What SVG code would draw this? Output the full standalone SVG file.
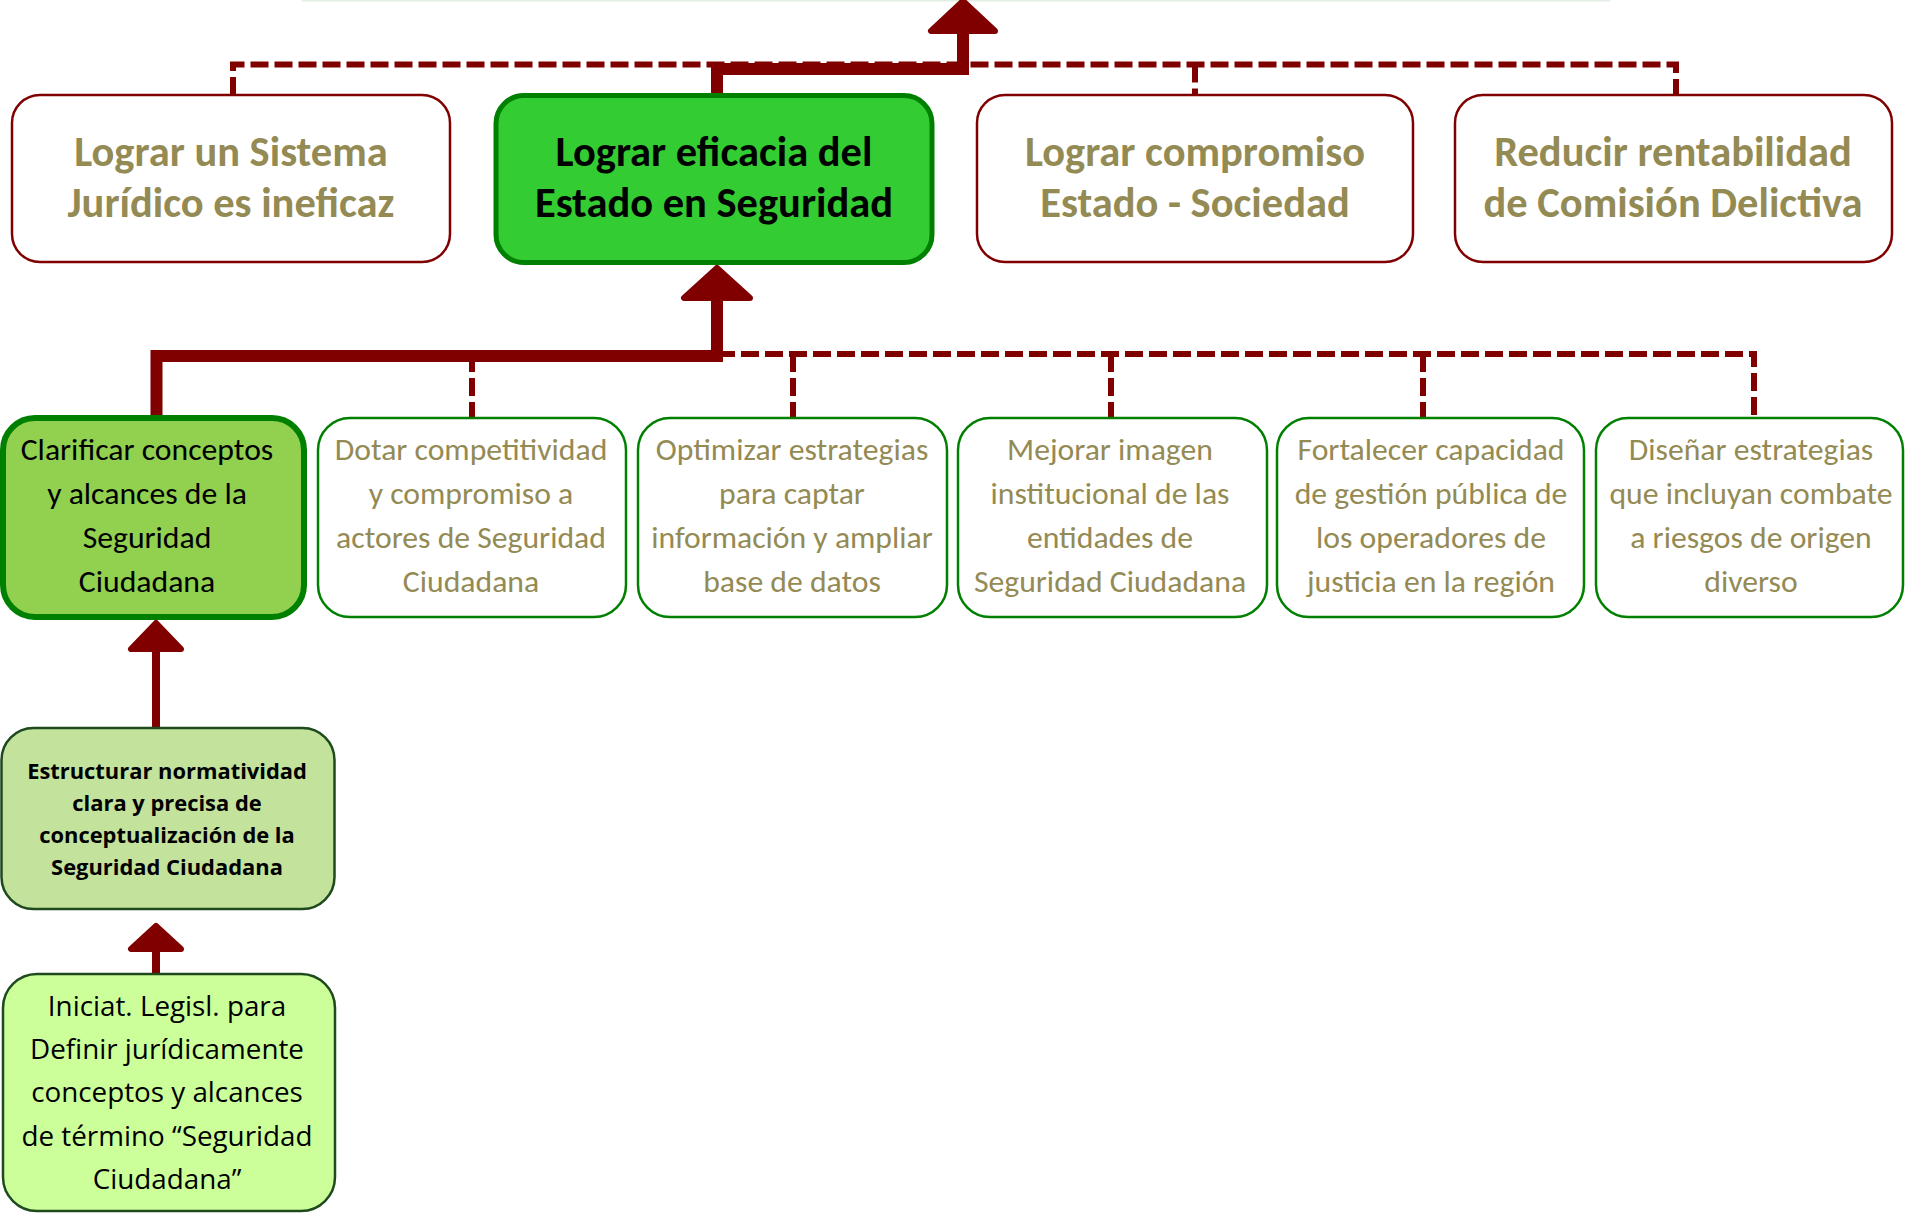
<svg xmlns="http://www.w3.org/2000/svg" width="1910" height="1216" viewBox="0 0 1910 1216">
<style>
.bg{fill:#ffffff}
.topbox{fill:#ffffff;stroke:#800000;stroke-width:2.5}
.midbox{fill:#ffffff;stroke:#008000;stroke-width:2.5}
.cal{font-family:Carlito,Lato,"Liberation Sans",sans-serif;text-anchor:middle}
.tb{font-size:42.5px;font-weight:bold;fill:#948A54}
.tm{font-size:31.7px;fill:#948A54}
.seg{font-family:"Open Sans","Noto Sans",sans-serif;text-anchor:middle;fill:#000000}
.thick{fill:none;stroke:#800000;stroke-width:12;stroke-linejoin:miter}
.thin{fill:none;stroke:#800000;stroke-width:8}
.dash{fill:none;stroke:#800000;stroke-width:6;stroke-dasharray:18 6}
.head{fill:#800000;stroke:#800000;stroke-width:6;stroke-linejoin:round}
</style>
<rect class="bg" x="0" y="0" width="1910" height="1216"/>
<line x1="302" y1="0.5" x2="1610" y2="0.5" stroke="#E3EDE3" stroke-width="2"/>

<g id="connectors">
  <path class="dash" d="M233,95 V64.5 H1676 V95"/>
  <path class="dash" d="M1195,64.5 V95"/>
  <path class="thick" d="M717,93 V69 H963 V30"/>
  <polygon class="head" points="963,1 931,31 995,31"/>
  <path class="dash" d="M717,354 H1754 V418"/>
  <path class="dash" d="M472,354 V418"/>
  <path class="dash" d="M793,354 V418"/>
  <path class="dash" d="M1111,354 V418"/>
  <path class="dash" d="M1423,354 V418"/>
  <path class="thick" d="M156.5,416 V356 H717 V298"/>
  <polygon class="head" points="717,268 684,298 750,298"/>
  <path class="thin" d="M156,728 V650"/>
  <polygon class="head" points="156,623 131,649 181,649"/>
  <path class="thin" d="M156,974 V950"/>
  <polygon class="head" points="156,926 131,949 181,949"/>
</g>

<g id="n-sistema">
  <rect class="topbox" x="12" y="95" width="438" height="167" rx="28"/>
  <text class="cal tb" x="231" y="166">Lograr un Sistema</text>
  <text class="cal tb" x="231" y="217">Jurídico es ineficaz</text>
</g>
<g id="n-eficacia">
  <rect x="496" y="95.5" width="436" height="167" rx="28" fill="#33CC33" stroke="#008000" stroke-width="5"/>
  <text class="cal" x="714" y="166" font-size="42.5" font-weight="bold" fill="#000000">Lograr eficacia del</text>
  <text class="cal" x="714" y="217" font-size="42.5" font-weight="bold" fill="#000000">Estado en Seguridad</text>
</g>
<g id="n-compromiso">
  <rect class="topbox" x="977" y="95" width="436" height="167" rx="28"/>
  <text class="cal tb" x="1195" y="166">Lograr compromiso</text>
  <text class="cal tb" x="1195" y="217">Estado - Sociedad</text>
</g>
<g id="n-rentabilidad">
  <rect class="topbox" x="1455" y="95" width="437" height="167" rx="28"/>
  <text class="cal tb" x="1673" y="166">Reducir rentabilidad</text>
  <text class="cal tb" x="1673" y="217">de Comisión Delictiva</text>
</g>

<g id="n-clarificar">
  <rect x="3" y="418" width="301" height="199" rx="32" fill="#92D050" stroke="#008000" stroke-width="6"/>
  <text class="cal" font-size="31.7" fill="#000000" x="147" y="460">Clarificar conceptos</text>
  <text class="cal" font-size="31.7" fill="#000000" x="147" y="504">y alcances de la</text>
  <text class="cal" font-size="31.7" fill="#000000" x="147" y="548">Seguridad</text>
  <text class="cal" font-size="31.7" fill="#000000" x="147" y="592">Ciudadana</text>
</g>
<g id="n-dotar">
  <rect class="midbox" x="318" y="418" width="308" height="199" rx="32"/>
  <text class="cal tm" x="471" y="460">Dotar competitividad</text>
  <text class="cal tm" x="471" y="504">y compromiso a</text>
  <text class="cal tm" x="471" y="548">actores de Seguridad</text>
  <text class="cal tm" x="471" y="592">Ciudadana</text>
</g>
<g id="n-optimizar">
  <rect class="midbox" x="638" y="418" width="309" height="199" rx="32"/>
  <text class="cal tm" x="792" y="460">Optimizar estrategias</text>
  <text class="cal tm" x="792" y="504">para captar</text>
  <text class="cal tm" x="792" y="548">información y ampliar</text>
  <text class="cal tm" x="792" y="592">base de datos</text>
</g>
<g id="n-mejorar">
  <rect class="midbox" x="958" y="418" width="309" height="199" rx="32"/>
  <text class="cal tm" x="1110" y="460">Mejorar imagen</text>
  <text class="cal tm" x="1110" y="504">institucional de las</text>
  <text class="cal tm" x="1110" y="548">entidades de</text>
  <text class="cal tm" x="1110" y="592">Seguridad Ciudadana</text>
</g>
<g id="n-fortalecer">
  <rect class="midbox" x="1277" y="418" width="307" height="199" rx="32"/>
  <text class="cal tm" x="1431" y="460">Fortalecer capacidad</text>
  <text class="cal tm" x="1431" y="504">de gestión pública de</text>
  <text class="cal tm" x="1431" y="548">los operadores de</text>
  <text class="cal tm" x="1431" y="592">justicia en la región</text>
</g>
<g id="n-disenar">
  <rect class="midbox" x="1596" y="418" width="307" height="199" rx="32"/>
  <text class="cal tm" x="1751" y="460">Diseñar estrategias</text>
  <text class="cal tm" x="1751" y="504">que incluyan combate</text>
  <text class="cal tm" x="1751" y="548">a riesgos de origen</text>
  <text class="cal tm" x="1751" y="592">diverso</text>
</g>

<g id="n-estructurar">
  <rect x="1.5" y="728" width="333" height="181" rx="32" fill="#C3E29B" stroke="#1E4A1E" stroke-width="2.5"/>
  <text class="seg" font-size="21.9" font-weight="bold" x="167" y="779">Estructurar normatividad</text>
  <text class="seg" font-size="21.9" font-weight="bold" x="167" y="811">clara y precisa de</text>
  <text class="seg" font-size="21.9" font-weight="bold" x="167" y="843">conceptualización de la</text>
  <text class="seg" font-size="21.9" font-weight="bold" x="167" y="875">Seguridad Ciudadana</text>
</g>
<g id="n-iniciat">
  <rect x="3" y="974" width="332" height="237" rx="34" fill="#CCFF99" stroke="#1E4A1E" stroke-width="2.5"/>
  <text class="seg" font-size="27.8" x="167" y="1016">Iniciat. Legisl. para</text>
  <text class="seg" font-size="27.8" x="167" y="1059">Definir jurídicamente</text>
  <text class="seg" font-size="27.8" x="167" y="1102">conceptos y alcances</text>
  <text class="seg" font-size="27.8" x="167" y="1146">de término “Seguridad</text>
  <text class="seg" font-size="27.8" x="167" y="1189">Ciudadana”</text>
</g>
</svg>
